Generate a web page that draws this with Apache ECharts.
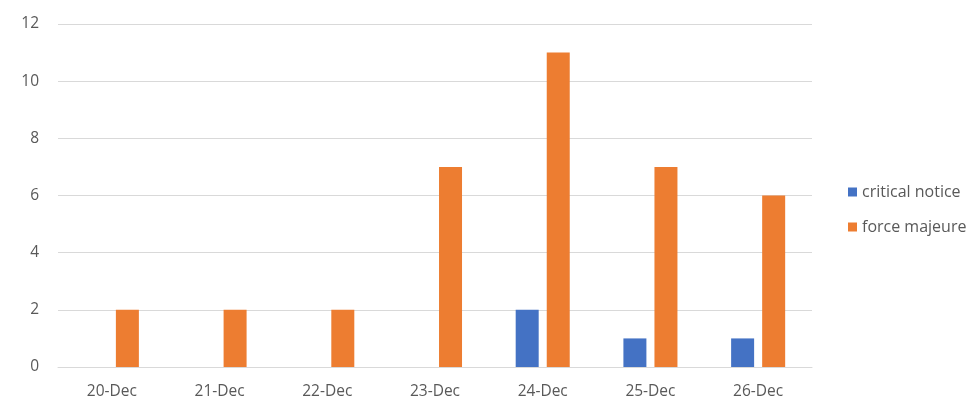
<!DOCTYPE html>
<html><head><meta charset="utf-8">
<script src="https://cdn.jsdelivr.net/npm/echarts@6/dist/echarts.min.js"></script>
<style>html,body{margin:0;padding:0;background:#fff}#c{width:979px;height:405px}</style>
</head><body><div id="c"></div>
<script>
const categories = ['20-Dec','21-Dec','22-Dec','23-Dec','24-Dec','25-Dec','26-Dec'];
const criticalNotice = [0,0,0,0,2,1,1];
const forceMajeure = [2,2,2,7,11,7,6];
const chart = echarts.init(document.getElementById('c'));
const font = 'Open Sans';
chart.setOption({
  animation:false,
  grid:{left:58,right:167,top:24,bottom:38},
  legend:{orient:'vertical',left:843,top:179,itemWidth:9,itemHeight:9,itemGap:19,icon:'rect',
    textStyle:{color:'#595959',fontSize:16,fontFamily:font},
    data:['critical notice','force majeure']},
  xAxis:{type:'category',data:categories,
    axisLine:{lineStyle:{color:'#d9d9d9'}},axisTick:{show:false},
    axisLabel:{color:'#595959',fontSize:15.5,fontFamily:font,margin:17}},
  yAxis:{type:'value',min:0,max:12,interval:2,
    axisLabel:{color:'#595959',fontSize:15.5,fontFamily:font,margin:19},
    splitLine:{lineStyle:{color:'#d9d9d9'}}},
  series:[
    {name:'critical notice',type:'bar',data:criticalNotice,barWidth:23,barGap:'35%',itemStyle:{color:'#4472C4'}},
    {name:'force majeure',type:'bar',data:forceMajeure,barWidth:23,itemStyle:{color:'#ED7D31'}}
  ]
});
</script></body></html>
